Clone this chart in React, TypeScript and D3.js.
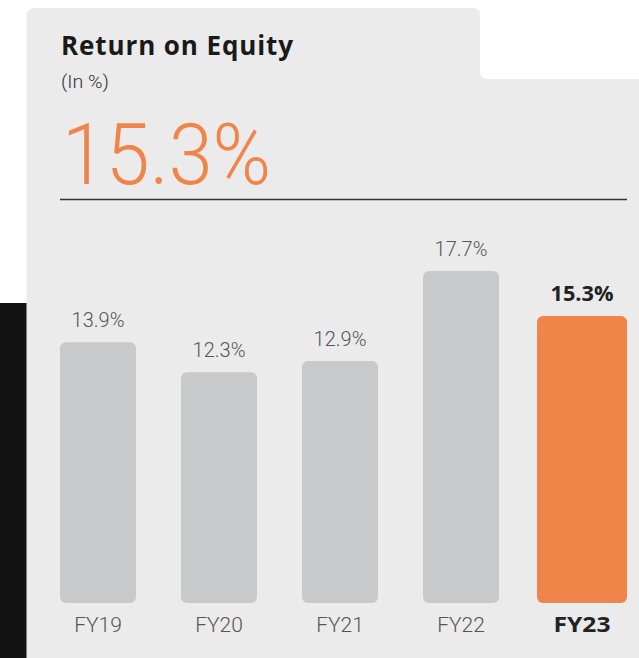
import React from "react";
import * as d3 from "d3";

const categories = ["FY19", "FY20", "FY21", "FY22", "FY23"];
const values = [13.9, 12.3, 12.9, 17.7, 15.3];
const valueLabels = ["13.9%", "12.3%", "12.9%", "17.7%", "15.3%"];
const highlight = "FY23";
const title = "Return on Equity";
const subtitle = "(In %)";
const headline = "15.3%";

const W = 639;
const H = 658;

export default function App() {
  const x = d3.scaleBand<string>().domain(categories).range([37.5, 642.5]).paddingInner(0.372).paddingOuter(0.186);
  const y = d3.scaleLinear().domain([0, 17.7]).range([603, 271]);
  const bw = x.bandwidth();
  const hw = 90;

  const panel = "M26.5,658 V16 Q26.5,8 34.5,8 H473 Q480,8 480,15 V72 Q480,79 487,79 H639 V658 Z";

  return (
    <svg width={W} height={H} style={{ position: "absolute", left: 0, top: 0, display: "block" }}
      fontFamily="Roboto, 'Open Sans', sans-serif">
      <rect x={0} y={0} width={W} height={H} fill="#ffffff" />
      <rect x={0} y={303} width={27} height={H - 303} fill="#121212" />
      <path d={panel} fill="#ebebeb" />
      <text x={61} y={55} fontSize={26} fontFamily="'Open Sans', sans-serif" fontWeight={700} fill="#1a1a1a" textLength={232} lengthAdjust="spacing">{title}</text>
      <text x={61} y={88} fontSize={19} fontWeight={300} fill="#333" textLength={48} lengthAdjust="spacingAndGlyphs">{subtitle}</text>
      <text x={62} y={184} fontSize={86} fontWeight={300} fill="#f0854a" textLength={209} lengthAdjust="spacingAndGlyphs">{headline}</text>
      <line x1={60} x2={627} y1={199.5} y2={199.5} stroke="#333" strokeWidth={1.5} />
      {categories.map((c, i) => {
        const hl = c === highlight;
        const cx = (x(c) as number) + bw / 2;
        const w = hl ? hw : bw;
        const top = y(values[i]);
        return (
          <g key={c}>
            <rect x={cx - w / 2} y={top} width={w} height={y(0) - top} rx={6} ry={6} fill={hl ? "#f0854a" : "#c8c9cb"} />
            {hl ? (
              <text x={cx} y={top - 15} textAnchor="middle" fontSize={22} fontFamily="'Open Sans', sans-serif" fontWeight={700} fill="#222" textLength={63} lengthAdjust="spacingAndGlyphs">{valueLabels[i]}</text>
            ) : (
              <text x={cx} y={top - 15} textAnchor="middle" fontSize={20} fontWeight={300} fill="#555">{valueLabels[i]}</text>
            )}
            {hl ? (
              <text x={cx} y={632} textAnchor="middle" fontSize={22} fontFamily="'Open Sans', sans-serif" fontWeight={700} fill="#222" textLength={57} lengthAdjust="spacingAndGlyphs">{c}</text>
            ) : (
              <text x={cx} y={632} textAnchor="middle" fontSize={21} fontWeight={300} fill="#555">{c}</text>
            )}
          </g>
        );
      })}
    </svg>
  );
}
